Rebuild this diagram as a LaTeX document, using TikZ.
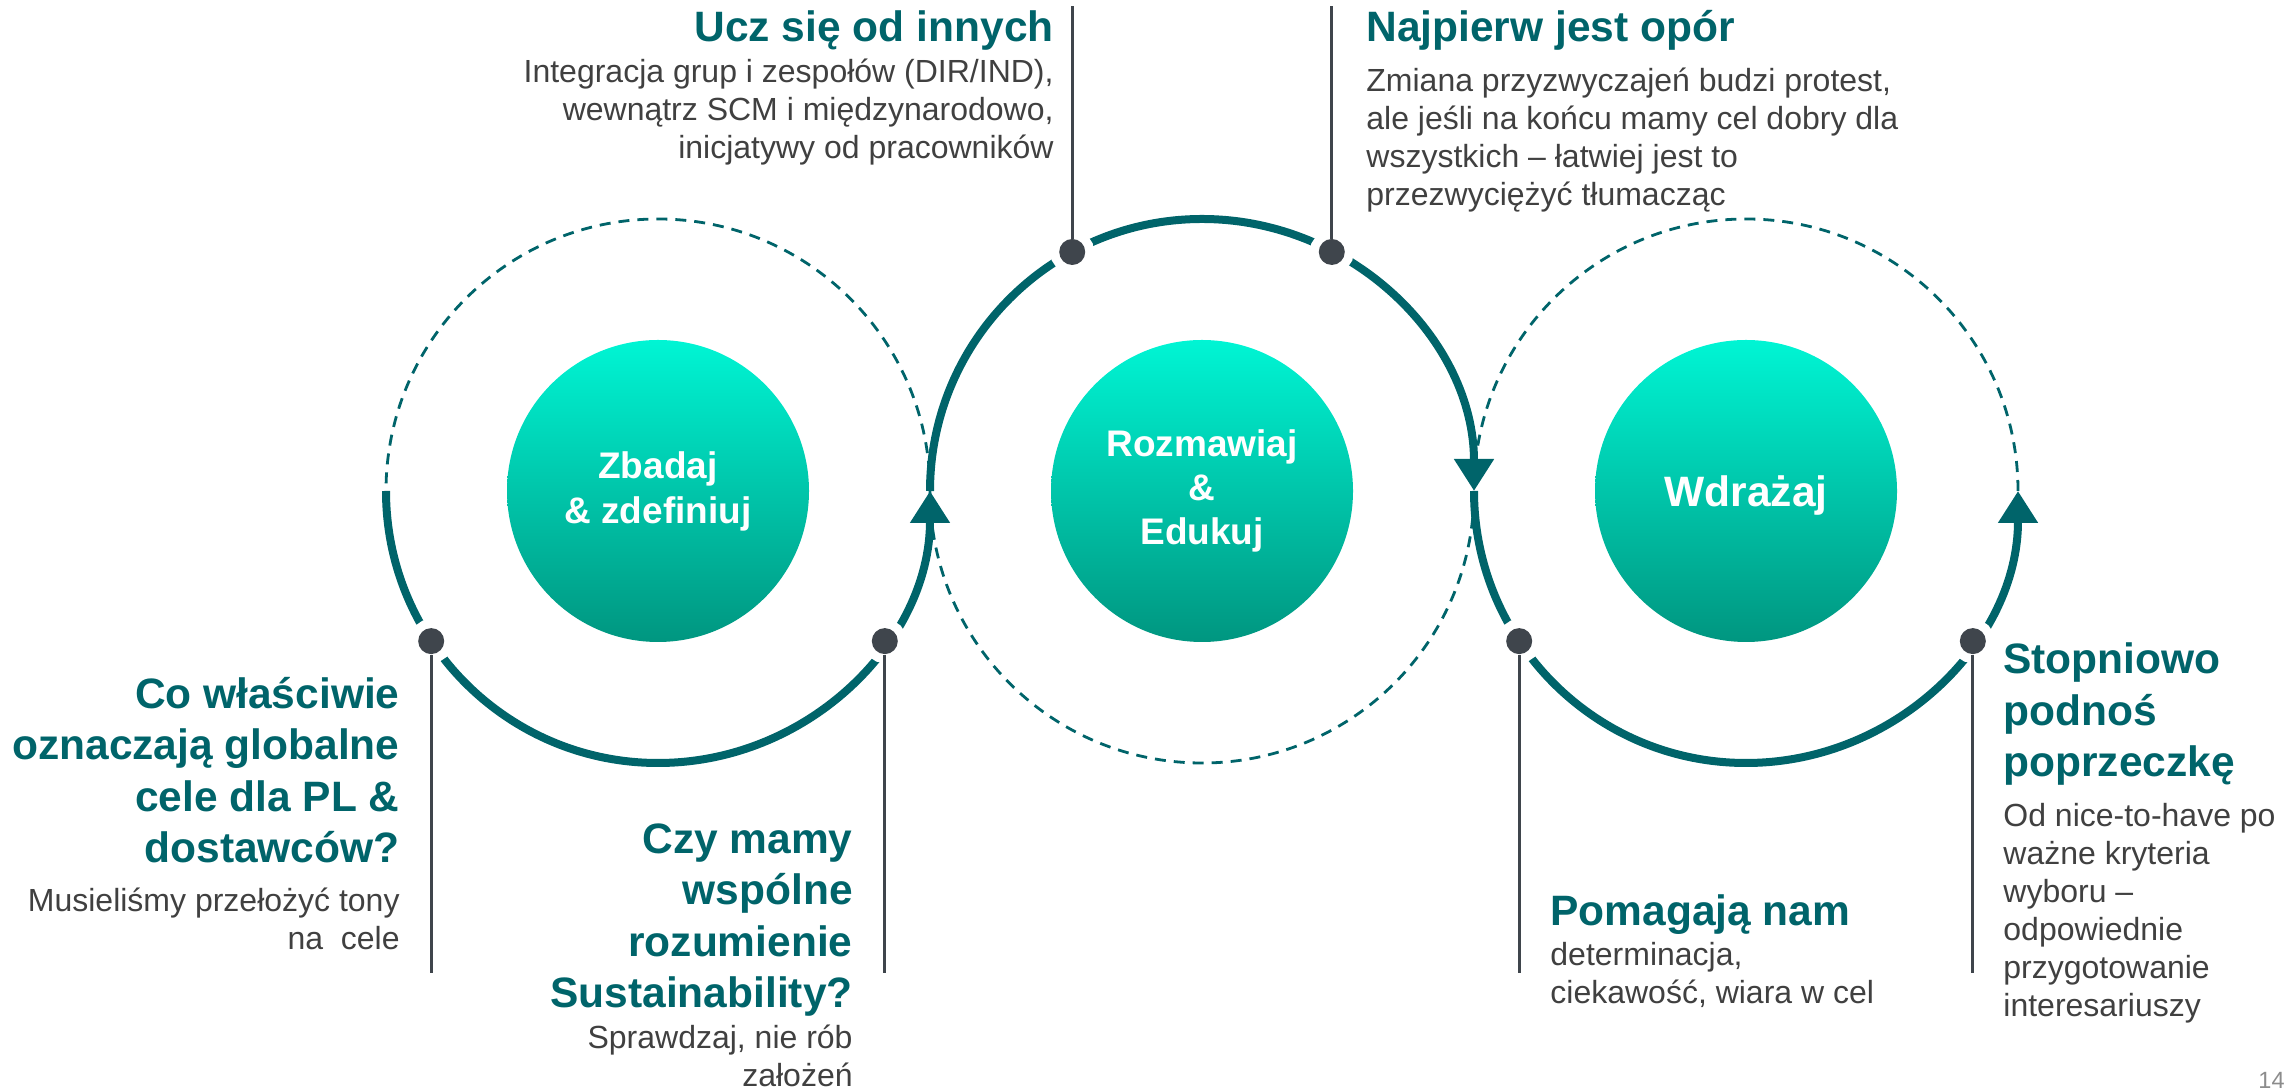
\documentclass[tikz,border=0pt]{standalone}
\usepackage{fontspec}
\setmainfont{Liberation Sans}
\usepackage{xcolor}
\usepackage{tikz}
\usetikzlibrary{arrows.meta}

\definecolor{teal1}{RGB}{0,100,106}
\definecolor{ink}{RGB}{64,64,64}
\definecolor{dotgrey}{RGB}{63,69,76}
\definecolor{aquatop}{RGB}{0,245,212}
\definecolor{aquabot}{RGB}{0,150,128}
\definecolor{pagegrey}{RGB}{140,140,140}

\begin{document}
\begin{tikzpicture}[x=0.5pt,y=0.5pt,
    ring/.style={draw=teal1,line width=4pt},
    ringtip/.style={ring,-{Triangle[length=16pt,width=19pt]}},
    trail/.style={draw=teal1,line width=1.4pt,dash pattern=on 5.5pt off 4pt},
    core/.style={circle,minimum size=151pt,inner sep=0pt,top color=aquatop,bottom color=aquabot,
        text=white,align=center,font=\bfseries\fontsize{18.5}{22.5}\selectfont},
    pin/.style={circle,fill=dotgrey,minimum size=13pt,inner sep=0pt,preaction={draw=white,line width=9pt}},
    stem/.style={draw=dotgrey,line width=1.4pt},
    head/.style={text=teal1,inner sep=0pt,font=\bfseries\fontsize{21.25}{25.75}\selectfont},
    body/.style={text=ink,inner sep=0pt,font=\fontsize{16}{19}\selectfont}]

    \useasboundingbox (0,0) rectangle (2295,1091);

    % centres and ends of the stems
    \coordinate (c1) at (658,600);
    \coordinate (c2) at (1202,600);
    \coordinate (c3) at (1746,600);
    \coordinate (lowend) at (0,118);
    \coordinate (topend) at (0,1085);

    % dashed halves
    \draw[trail] (c1) ++(0:272) arc[start angle=0,end angle=180,radius=272];
    \draw[trail] (c2) ++(180:272) arc[start angle=180,end angle=360,radius=272];
    \draw[trail] (c3) ++(0:272) arc[start angle=0,end angle=180,radius=272];

    % solid halves with tips
    \draw[ringtip] (c1) ++(180:272) arc[start angle=180,end angle=360,radius=272];
    \draw[ringtip] (c2) ++(180:272) arc[start angle=180,end angle=0,radius=272];
    \draw[ringtip] (c3) ++(180:272) arc[start angle=180,end angle=360,radius=272];

    % discs
    \node[core] (z) at (c1) {Zbadaj\\\& zdefiniuj};
    \node[core,font=\bfseries\fontsize{18.5}{22}\selectfont] (r) at (c2) {Rozmawiaj\\\&\\Edukuj};
    \node[core,text depth=0pt,font=\bfseries\fontsize{21.25}{25}\selectfont] (w) at (c3) {Wdrażaj};

    % pins on the rings
    \node[pin] (p1) at ([shift={(213.5:272)}]c1) {};
    \node[pin] (p2) at ([shift={(326.5:272)}]c1) {};
    \node[pin] (p3) at ([shift={(118.5:272)}]c2) {};
    \node[pin] (p4) at ([shift={(61.5:272)}]c2) {};
    \node[pin] (p5) at ([shift={(213.5:272)}]c3) {};
    \node[pin] (p6) at ([shift={(326.5:272)}]c3) {};

    \draw[stem] (p1) -- (p1 |- lowend);
    \draw[stem] (p2) -- (p2 |- lowend);
    \draw[stem] (p3) -- (p3 |- topend);
    \draw[stem] (p4) -- (p4 |- topend);
    \draw[stem] (p5) -- (p5 |- lowend);
    \draw[stem] (p6) -- (p6 |- lowend);

    % texts at the top (base = last line)
    \node[head,anchor=base east,align=right] (t3) at (1054,1049) {Ucz się od innych};
    \node[body,anchor=base east,align=right] (b3) at (1054,932)
        {Integracja grup i zespołów (DIR/IND),\\wewnątrz SCM i międzynarodowo,\\inicjatywy od pracowników};
    \node[head,anchor=base west,align=left] (t4) at (1366,1049) {Najpierw jest opór};
    \node[body,anchor=base west,align=left] (b4) at (1366,885)
        {Zmiana przyzwyczajeń budzi protest,\\ale jeśli na końcu mamy cel dobry dla\\wszystkich -- łatwiej jest to\\przezwyciężyć tłumacząc};

    % texts at the bottom
    \node[head,anchor=base east,align=right] (t1) at (400,228)
        {Co właściwie\\oznaczają globalne\\cele dla PL \&\\dostawców?};
    \node[body,anchor=base east,align=right] (b1) at (400,141) {Musieliśmy przełożyć tony\\na\ \ cele};
    \node[head,anchor=base east,align=right] (t2) at (853,83)
        {Czy mamy\\wspólne\\rozumienie\\Sustainability?};
    \node[body,anchor=base east,align=right] (b2) at (853,4) {Sprawdzaj, nie rób\\założeń};
    \node[head,anchor=base west,align=left] (t5) at (1550,165) {Pomagają nam};
    \node[body,anchor=base west,align=left] (b5) at (1550,87) {determinacja,\\ciekawość, wiara w cel};
    \node[head,anchor=base west,align=left] (t6) at (2003,314) {Stopniowo\\podnoś\\poprzeczkę};
    \node[body,anchor=base west,align=left] (b6) at (2003,74)
        {Od nice-to-have po\\ważne kryteria\\wyboru --\\odpowiednie\\przygotowanie\\interesariuszy};

    \node[anchor=base east,inner sep=0pt,text=pagegrey,font=\fontsize{11.75}{14}\selectfont] (pg) at (2285,2) {14};
\end{tikzpicture}
\end{document}
